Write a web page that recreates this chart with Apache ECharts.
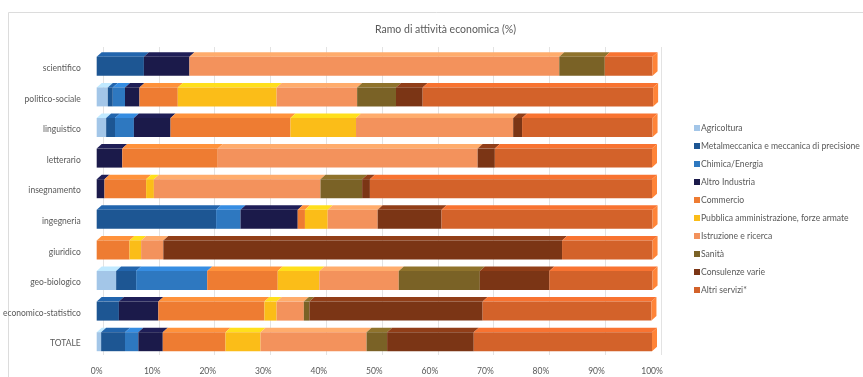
<!DOCTYPE html>
<html>
<head>
<meta charset="utf-8">
<script src="https://cdn.jsdelivr.net/npm/echarts@6/dist/echarts.min.js"></script>
<style>html,body{margin:0;padding:0;background:#fff}#c{width:863px;height:377px}</style>
</head>
<body>
<div id="c"></div>
<script>
const categories = ['scientifico','politico-sociale','linguistico','letterario','insegnamento','ingegneria','giuridico','geo-biologico','economico-statistico','TOTALE'];
const tickLabels = ['0%','10%','20%','30%','40%','50%','60%','70%','80%','90%','100%'];
const seriesNames = ['Agricoltura','Metalmeccanica e meccanica di precisione','Chimica/Energia','Altro Industria','Commercio','Pubblica amministrazione, forze armate','Istruzione e ricerca','Sanità','Consulenze varie','Altri servizi*'];

const agricoltura    = [0,    2.0,  1.7,  0,    0,    0,    0,    3.5,  0,    0.8];
const metalmeccanica = [8.5,  0.9,  1.6,  0,    0,    21.5, 0,    3.6,  4.0,  4.3];
const chimica        = [0,    2.2,  3.4,  0,    0,    4.4,  0,    12.8, 0,    2.4];
const altroIndustria = [8.2,  2.6,  6.6,  4.6,  1.4,  10.3, 0,    0,    7.1,  4.4];
const commercio      = [0,    6.9,  21.6, 17.2, 7.5,  1.3,  5.9,  12.7, 19.1, 11.3];
const pubblicaAmm    = [0,    17.8, 11.8, 0,    1.4,  4.1,  2.1,  7.5,  2.2,  6.3];
const istruzione     = [66.6, 14.5, 28.3, 46.8, 30.0, 9.0,  4.0,  14.3, 4.9,  19.1];
const sanita         = [8.2,  7.0,  0,    0,    7.5,  0,    0,    14.6, 1.0,  3.7];
const consulenze     = [0,    4.8,  1.6,  3.1,  1.4,  11.5, 71.8, 12.5, 31.2, 15.6];
const altriServizi   = [8.6,  41.5, 23.5, 28.3, 50.8, 38.0, 16.3, 18.6, 30.4, 32.1];

const allValues = [agricoltura, metalmeccanica, chimica, altroIndustria, commercio, pubblicaAmm, istruzione, sanita, consulenze, altriServizi];
const colors = ['#A3C6E8','#1D5693','#2E78C0','#1B1A4A','#EE7C32','#FBBD18','#F3925C','#7A6226','#7B3515','#D3622A'];

const TXT = '#595959';
const FONT = 'Lato';
const DX = 5, DY = 4.5;

const cum = categories.map(() => 0);
const series = allValues.map((vals, si) => {
  const data = vals.map((v, ci) => {
    const s = cum[ci]; cum[ci] += v;
    return [s, s + v, ci, v];
  });
  const col = colors[si];
  const topCol = echarts.color.lift(col, -0.18);
  const sideCol = echarts.color.lift(col, -0.35);
  const isLast = si === allValues.length - 1;
  return {
    type: 'custom',
    name: seriesNames[si],
    xAxisIndex: 0, yAxisIndex: 0,
    itemStyle: { color: col },
    encode: { x: [0, 1], y: 2 },
    data: data,
    z: 5,
    renderItem: function (params, api) {
      if (api.value(3) <= 0) return null;
      const p0 = api.coord([api.value(0), api.value(2)]);
      const p1 = api.coord([api.value(1), api.value(2)]);
      const c = p0[1];
      const yT = c - 11.5, yB = c + 7.5;
      const ch = [
        { type: 'polygon', shape: { points: [[p0[0], yT], [p1[0], yT], [p1[0] + DX, yT - DY], [p0[0] + DX, yT - DY]] }, style: { fill: topCol } },
        { type: 'rect', shape: { x: p0[0], y: yT, width: p1[0] - p0[0], height: yB - yT }, style: { fill: col } }
      ];
      if (isLast) {
        ch.push({ type: 'polygon', shape: { points: [[p1[0], yT], [p1[0] + DX, yT - DY], [p1[0] + DX, yB - DY], [p1[0], yB]] }, style: { fill: sideCol } });
      }
      return { type: 'group', children: ch };
    }
  };
});

const chart = echarts.init(document.getElementById('c'), null, { renderer: 'canvas' });
chart.setOption({
  animation: false,
  backgroundColor: '#fff',
  textStyle: { fontFamily: FONT },
  title: {
    text: 'Ramo di attività economica (%)',
    left: 370, top: 19,
    textStyle: { fontFamily: FONT, fontSize: 10.5, fontWeight: 'normal', color: TXT }
  },
  graphic: [{
    type: 'rect', left: 6, top: 10, z: -10,
    shape: { width: 880, height: 420 },
    style: { fill: 'none', stroke: '#dcdcdc', lineWidth: 1 }
  }],
  legend: {
    orient: 'vertical', left: 689, top: 117,
    itemWidth: 6, itemHeight: 6, itemGap: 6,
    icon: 'rect',
    textStyle: { fontFamily: FONT, fontSize: 8.6, color: TXT, lineHeight: 12, padding: [0, 0, 0, -4] },
    data: seriesNames
  },
  grid: [
    { left: 94, right: 211, top: 53, bottom: 18 },
    { left: 103, right: 202, top: 47, bottom: 22 }
  ],
  xAxis: [
    { type: 'value', gridIndex: 0, min: 0, max: 100, interval: 10,
      axisLine: { show: false }, axisTick: { show: false }, splitLine: { show: false },
      axisLabel: { color: TXT, fontFamily: FONT, fontSize: 8.5, margin: 8, formatter: v => tickLabels[Math.round(v / 10)] } },
    { type: 'value', gridIndex: 1, min: 0, max: 100, interval: 10,
      axisLine: { show: false }, axisTick: { show: false }, axisLabel: { show: false },
      splitLine: { show: true, lineStyle: { color: '#e3e3e3', width: 1 } } }
  ],
  yAxis: [
    { type: 'category', gridIndex: 0, data: categories, inverse: true,
      axisLine: { show: false }, axisTick: { show: false }, splitLine: { show: false },
      axisLabel: { color: TXT, fontFamily: FONT, fontSize: 8.5, margin: 16 } },
    { type: 'category', gridIndex: 1, data: categories, inverse: true, show: false }
  ],
  series: series
});
</script>
</body>
</html>
